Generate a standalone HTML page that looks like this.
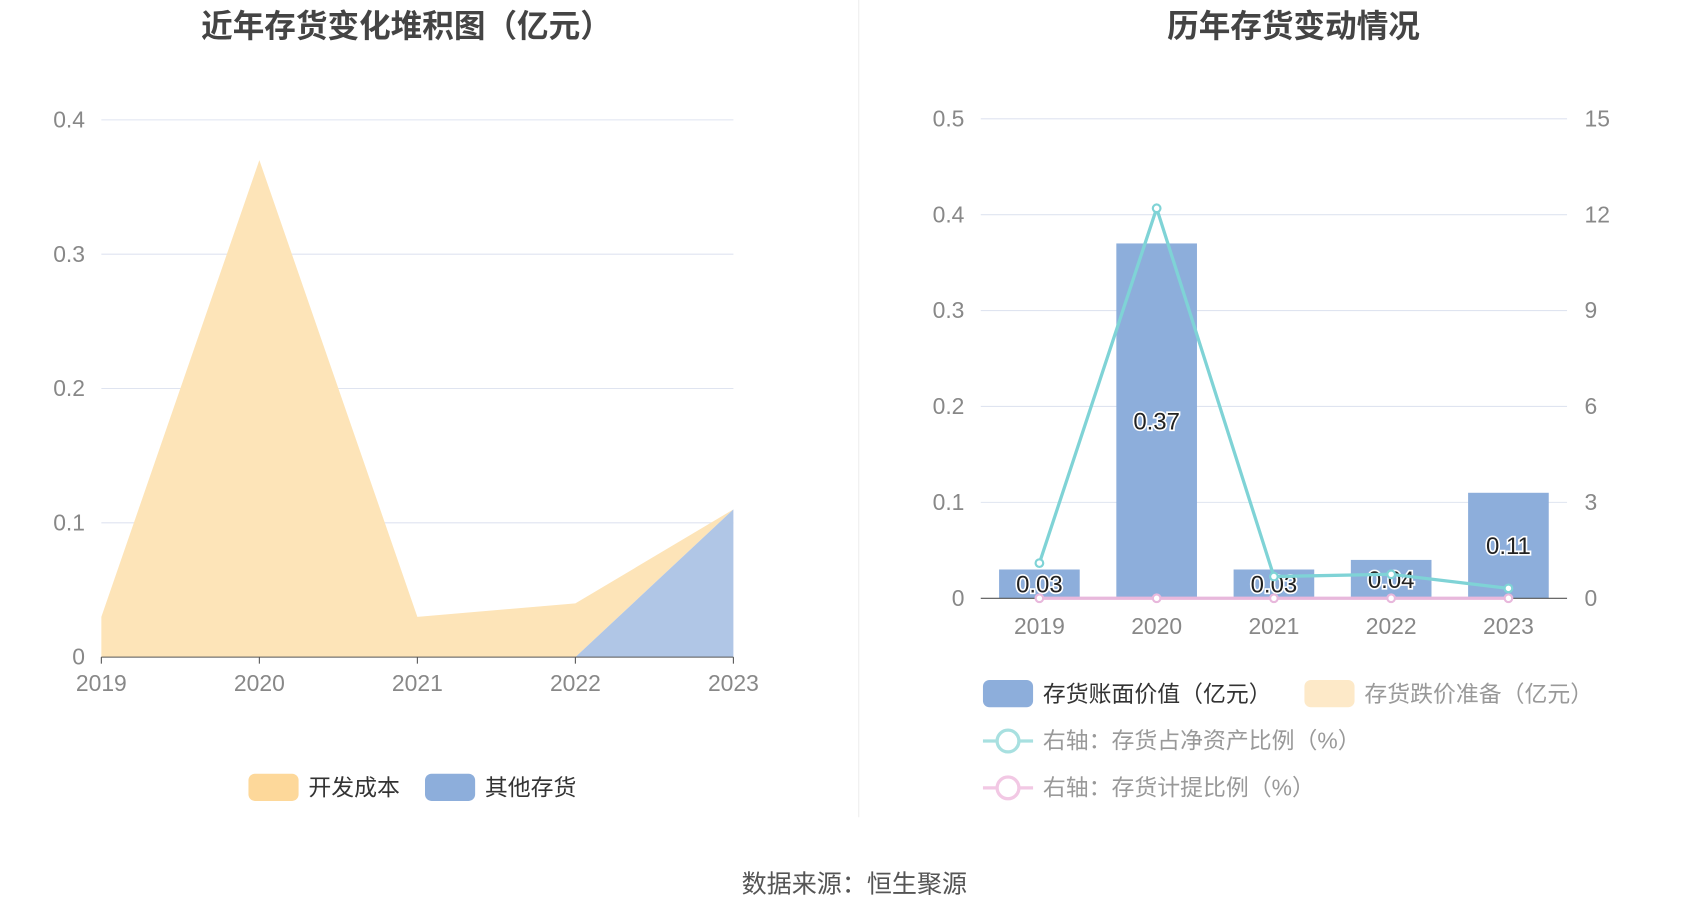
<!DOCTYPE html>
<html><head><meta charset="utf-8"><style>
html,body{margin:0;padding:0;background:#fff;}
svg{display:block;font-family:"Liberation Sans","Noto Sans CJK SC",sans-serif;}
</style></head><body>
<svg id="c" width="1700" height="918" viewBox="0 0 1560 842.4">
<text x="373" y="34" text-anchor="middle" font-size="29" font-weight="bold" fill="#444">近年存货变化堆积图（亿元）</text>
<text x="1187" y="34" text-anchor="middle" font-size="29" font-weight="bold" fill="#444">历年存货变动情况</text>
<line x1="788" y1="0" x2="788" y2="750" stroke="#eee"/>
<g id="left"></g>
<g id="right"></g>
<g>
<rect x="228" y="710" width="46" height="25" rx="6" fill="#fdd89a"/>
<text x="283" y="730" font-size="21" fill="#333">开发成本</text>
<rect x="390" y="710" width="46" height="25" rx="6" fill="#8daedb"/>
<text x="445" y="730" font-size="21" fill="#333">其他存货</text>
</g>
<g>
<rect x="902" y="624" width="46" height="25" rx="6" fill="#8daedb"/>
<text x="957" y="644" font-size="21" fill="#333">存货账面价值（亿元）</text>
<rect x="1197" y="624" width="46" height="25" rx="6" fill="#fde9c8"/>
<text x="1252" y="644" font-size="21" fill="#999">存货跌价准备（亿元）</text>
<line x1="902" y1="680" x2="948" y2="680" stroke="#a8e0e0" stroke-width="3"/>
<circle cx="925" cy="680" r="10" fill="#fff" stroke="#a8e0e0" stroke-width="3"/>
<text x="957" y="687" font-size="21" fill="#999">右轴：存货占净资产比例（%）</text>
<line x1="902" y1="723" x2="948" y2="723" stroke="#f2c8e4" stroke-width="3"/>
<circle cx="925" cy="723" r="10" fill="#fff" stroke="#f2c8e4" stroke-width="3"/>
<text x="957" y="730" font-size="21" fill="#999">右轴：存货计提比例（%）</text>
</g>
<text x="784" y="819" text-anchor="middle" font-size="23" fill="#555">数据来源：恒生聚源</text>
</svg>
<script>
const years=["2019","2020","2021","2022","2023"];
const devCost=[0.03,0.37,0.03,0.04,0];
const otherInv=[0,0,0,0,0.11];
const leftTicks=[0,0.1,0.2,0.3,0.4];
const bookValue=[0.03,0.37,0.03,0.04,0.11];
const provision=[0,0,0,0,0];
const ratioNetAsset=[1.1,12.2,0.68,0.75,0.31];
const provisionRatio=[0,0,0,0,0];
const rightTicks=[0,0.1,0.2,0.3,0.4,0.5];
const rightTicks2=[0,3,6,9,12,15];
const NS="http://www.w3.org/2000/svg";
function mk(p,t,a){const e=document.createElementNS(NS,t);for(const k in a)e.setAttribute(k,a[k]);p.appendChild(e);return e;}
// left
const L=document.getElementById('left');
const lx=i=>93+i*(580/(years.length-1));
const ly=v=>603-v/0.4*493;
leftTicks.forEach(t=>{
 if(t>0){const g=mk(L,'line',{x1:93,x2:673,y1:ly(t),y2:ly(t),stroke:'#dfe4f0'});}
 const tx=mk(L,'text',{x:78,y:ly(t)+7,'text-anchor':'end','font-size':21,fill:'#888'});tx.textContent=t;
 
 
});
let pb='',pt='';
years.forEach((y,i)=>{pb+=(i?'L':'M')+lx(i)+','+ly(otherInv[i]);});
let blue=pb;for(let i=years.length-1;i>=0;i--)blue+='L'+lx(i)+','+ly(0);
let orange='';years.forEach((y,i)=>{orange+=(i?'L':'M')+lx(i)+','+ly(otherInv[i]+devCost[i]);});
for(let i=years.length-1;i>=0;i--)orange+='L'+lx(i)+','+ly(otherInv[i]);
const ao=mk(L,'path',{d:orange+'Z',fill:'#fde4b8'});


const ab=mk(L,'path',{d:blue+'Z',fill:'#b0c6e6'});


mk(L,'line',{x1:93,x2:673,y1:ly(0),y2:ly(0),stroke:'#555'});
years.forEach((y,i)=>{mk(L,'line',{x1:lx(i),x2:lx(i),y1:603,y2:609,stroke:'#555'});
 const t=mk(L,'text',{x:lx(i),y:634,'text-anchor':'middle','font-size':21,fill:'#888'});t.textContent=y;
 
 });
// right
const R=document.getElementById('right');
const bw=(1438-900)/years.length;
const rx=i=>900+bw*(i+0.5);
const ry=v=>549-v/0.5*440;
const ry2=v=>549-v/15*440;
rightTicks.forEach((t,k)=>{
 if(t>0){const g=mk(R,'line',{x1:900,x2:1438,y1:ry(t),y2:ry(t),stroke:'#dfe4f0'});}
 const a=mk(R,'text',{x:885,y:ry(t)+7,'text-anchor':'end','font-size':21,fill:'#888'});a.textContent=t;
 
 
 const b=mk(R,'text',{x:1454,y:ry2(rightTicks2[k])+7,'font-size':21,fill:'#888'});b.textContent=rightTicks2[k];
 
 
});
years.forEach((y,i)=>{
 const r=mk(R,'rect',{x:rx(i)-37,y:ry(bookValue[i]),width:74,height:ry(0)-ry(bookValue[i]),fill:'#8daedb'});
 
 
 const t=mk(R,'text',{x:rx(i),y:(ry(bookValue[i])+ry(0))/2+8,'text-anchor':'middle','font-size':22,fill:'#222',stroke:'#fff','stroke-width':3,'paint-order':'stroke'});t.textContent=bookValue[i].toFixed(2);
 
 
 const x=mk(R,'text',{x:rx(i),y:582,'text-anchor':'middle','font-size':21,fill:'#888'});x.textContent=y;
 
 
});
mk(R,'line',{x1:900,x2:1438,y1:549,y2:549,stroke:'#555'});
function line(vals,col,name){let d='';vals.forEach((v,i)=>{d+=(i?'L':'M')+rx(i)+','+ry2(v);});
 const p=mk(R,'path',{d:d,fill:'none',stroke:col,'stroke-width':3});
 
 
 vals.forEach((v,i)=>{const c=mk(R,'circle',{cx:rx(i),cy:ry2(v),r:3.5,fill:'#fff',stroke:col,'stroke-width':2});
 
 });}
line(provisionRatio,'#e8b8dc','line-provision-ratio');
line(ratioNetAsset,'#7fd3d6','line-net-asset-ratio');
</script>
</body></html>
